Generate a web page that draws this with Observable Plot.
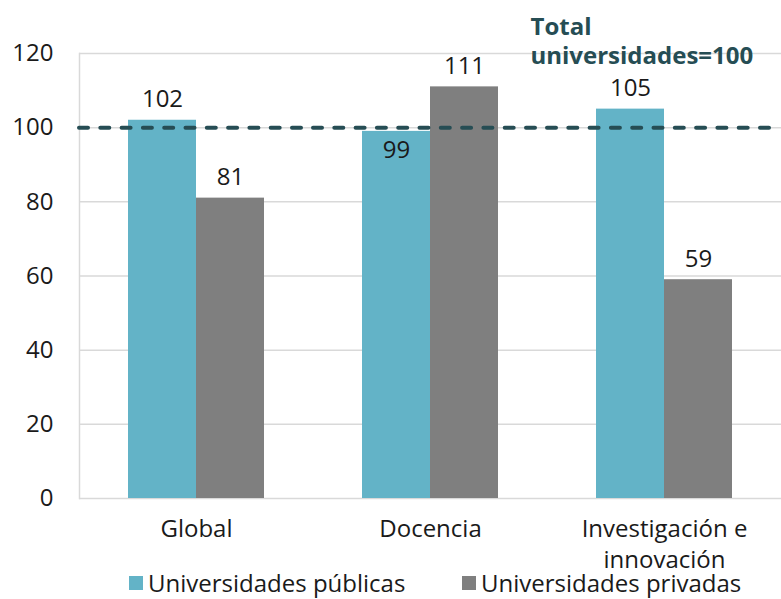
<!DOCTYPE html>
<html>
<head>
<meta charset="utf-8">
<script src="https://cdn.jsdelivr.net/npm/d3@7"></script>
<script src="https://cdn.jsdelivr.net/npm/@observablehq/plot@0.6"></script>
<style>
  body { margin: 0; background: white; }
  #chart { position: relative; width: 781px; }
  #legend { position: relative; width: 781px; height: 31px; font-family: "Open Sans", sans-serif; font-size: 24px; color: #1a1a1a; }
  .item { position: absolute; top: -1px; height: 31px; display: flex; align-items: center; white-space: nowrap; }
  .sw { width: 14px; height: 14px; display: inline-block; margin-right: 5px; }
</style>
</head>
<body>
<div id="chart"></div>
<div id="legend"></div>
<script>
const categories = ["Global", "Docencia", "Investigación e innovación"];
const series = ["Universidades públicas", "Universidades privadas"];
const publicas = [102, 99, 105];
const privadas = [81, 111, 59];
const yTicks = [0, 20, 40, 60, 80, 100, 120];
const reference = 100;
const referenceLabel = "Total\nuniversidades=100";
const colors = ["#63b3c7", "#7f7f7f"];

const data = categories.flatMap((c, i) => [
  {category: c, series: series[0], value: publicas[i]},
  {category: c, series: series[1], value: privadas[i]}
]);
const inside = d => d.value < reference && d.value > reference - 5;

const chart = Plot.plot({
  width: 781,
  height: 568,
  marginLeft: 78,
  marginRight: 0,
  marginTop: 53,
  marginBottom: 70,
  style: {fontFamily: "'Open Sans', sans-serif", fontSize: "24px", color: "#1a1a1a", background: "white", overflow: "visible"},
  fx: {domain: categories, padding: 0, label: null},
  x: {domain: series, paddingInner: 0, paddingOuter: 0.72, axis: null},
  y: {domain: [0, 120], label: null},
  color: {domain: series, range: colors},
  marks: [
    Plot.gridY(yTicks, {stroke: "#d9d9d9", strokeOpacity: 1, strokeWidth: 1.5}),
    Plot.frame({anchor: "left", facetAnchor: "left", stroke: "#d9d9d9", strokeWidth: 1.5}),
    Plot.axisY(yTicks, {tickSize: 0, tickPadding: 26, label: null, fontSize: 24, fill: "#1a1a1a"}),
    Plot.axisFx({anchor: "bottom", tickSize: 0, tickPadding: 16, label: null, fontSize: 24, lineHeight: 1.3, fill: "#1a1a1a",
      tickFormat: d => d === "Investigación e innovación" ? "Investigación e\ninnovación" : d}),
    Plot.barY(data, {fx: "category", x: "series", y: "value", fill: "series"}),
    Plot.ruleY([reference], {stroke: "#264d54", strokeWidth: 4, strokeDasharray: "9,12.3", strokeLinecap: "round"}),
    Plot.text(data.filter(d => !inside(d)), {fx: "category", x: "series", y: "value", text: d => String(d.value),
      lineAnchor: "bottom", dy: -13, fontSize: 24, fill: "#1a1a1a"}),
    Plot.text(data.filter(inside), {fx: "category", x: "series", y: "value", text: d => String(d.value),
      lineAnchor: "top", dy: 10, fontSize: 24, fill: "#1a1a1a"}),
    Plot.text([{category: categories[2], label: referenceLabel}], {fx: "category", text: "label",
      frameAnchor: "top-left", textAnchor: "start", lineAnchor: "top", dx: -17, dy: -38, lineHeight: 1.17,
      fontSize: 24, fontWeight: "bold", fill: "#264d54"})
  ]
});
document.getElementById("chart").appendChild(chart);

const legend = document.getElementById("legend");
const lefts = [129, 462];
series.forEach((s, i) => {
  const item = document.createElement("div");
  item.className = "item";
  item.style.left = lefts[i] + "px";
  const sw = document.createElement("span");
  sw.className = "sw";
  sw.style.background = colors[i];
  const t = document.createElement("span");
  t.textContent = s;
  item.appendChild(sw);
  item.appendChild(t);
  legend.appendChild(item);
});
</script>
</body>
</html>
